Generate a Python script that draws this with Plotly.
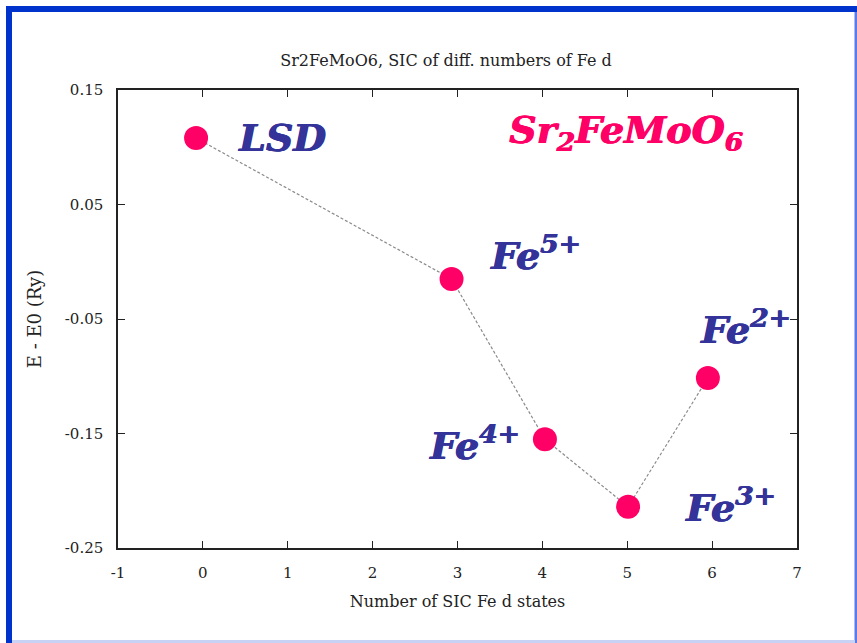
import plotly.graph_objects as go

# data
states = [-0.08, 2.93, 4.03, 5.01, 5.95]
energy = [0.108, -0.015, -0.155, -0.214, -0.1015]
xticks = [-1, 0, 1, 2, 3, 4, 5, 6, 7]
xtick_text = ["-1", "0", "1", "2", "3", "4", "5", "6", "7"]
yticks = [0.15, 0.05, -0.05, -0.15, -0.25]
ytick_text = ["0.15", "0.05", "-0.05", "-0.15", "-0.25"]

W, H = 857, 643
L, R, T, B = 118, 797, 90, 548

fig = go.Figure()
fig.add_trace(go.Scatter(
    x=states, y=energy, mode="lines+markers",
    line=dict(color="#8a8a8a", width=1.2, dash="3px,2px"),
    marker=dict(size=24, color="#ff0066", line=dict(width=0)),
    showlegend=False, hoverinfo="skip"))

def px2data(px, py):
    return (-1 + (px - L) / (R - L) * 8, 0.15 - (py - T) / (B - T) * 0.4)

blue_shadow = "0.7px 0 0 #333399, -0.3px 0 0 #333399"
pink_shadow = "0.7px 0 0 #ff0066, -0.3px 0 0 #ff0066"
lab_font = dict(family="DejaVu Serif", size=38, color="#333399", shadow=blue_shadow)
labels = [
    ("<b><i>LSD</i></b>", 282, 137),
    ("<b><i>Fe<sup>5+</sup></i></b>", 535, 253),
    ("<b><i>Fe<sup>2+</sup></i></b>", 745, 327),
    ("<b><i>Fe<sup>4+</sup></i></b>", 474, 443),
    ("<b><i>Fe<sup>3+</sup></i></b>", 730, 505),
]
for txt, px, py in labels:
    x, y = px2data(px, py)
    fig.add_annotation(x=x, y=y, xref="x", yref="y", text=txt, showarrow=False,
                       font=lab_font, xanchor="center", yanchor="middle")
x, y = px2data(626, 132)
fig.add_annotation(x=x, y=y, xref="x", yref="y",
                   text="<b><i>Sr<sub>2</sub>FeMoO<sub>6</sub></i></b>", showarrow=False,
                   font=dict(family="DejaVu Serif", size=38, color="#ff0066", shadow=pink_shadow),
                   xanchor="center", yanchor="middle")

def pxx(px):
    return (px - L) / (R - L)

def pxy(py):
    return (B - py) / (B - T)

# frame
shapes = [
    dict(type="rect", xref="paper", yref="paper", x0=pxx(6), x1=pxx(12), y0=pxy(643), y1=pxy(6),
         fillcolor="#0033cc", line=dict(width=0), layer="above"),
    dict(type="rect", xref="paper", yref="paper", x0=pxx(6), x1=pxx(857), y0=pxy(12), y1=pxy(6),
         fillcolor="#0033cc", line=dict(width=0), layer="above"),
    dict(type="rect", xref="paper", yref="paper", x0=pxx(854.5), x1=pxx(857), y0=pxy(643), y1=pxy(12),
         fillcolor="#5c7ae8", line=dict(width=0), layer="above"),
    dict(type="rect", xref="paper", yref="paper", x0=pxx(12), x1=pxx(855), y0=pxy(643), y1=pxy(640),
         fillcolor="#c8d2f5", line=dict(width=0), layer="above"),
]

tick_font = dict(family="DejaVu Serif", size=15, color="#222222")
fig.update_layout(
    width=W, height=H,
    margin=dict(l=L, r=W - R, t=T, b=H - B),
    paper_bgcolor="white", plot_bgcolor="white",
    shapes=shapes,
    title=dict(text="Sr2FeMoO6, SIC of diff. numbers of Fe d", x=pxx(446), xref="paper",
               y=1 - 60 / H, yanchor="middle", xanchor="center",
               font=dict(family="DejaVu Serif", size=16, color="#222222")),
    xaxis=dict(range=[-1, 7], tickvals=xticks, ticktext=xtick_text, ticks="inside", ticklen=7,
               tickcolor="#222", ticklabelstandoff=10,
               showline=True, linecolor="#222", linewidth=1.5, mirror="ticks",
               showgrid=False, zeroline=False, tickfont=tick_font,
               title=dict(text="Number of SIC Fe d states", standoff=15,
                          font=dict(family="DejaVu Serif", size=16, color="#222222"))),
    yaxis=dict(range=[-0.25, 0.15], tickvals=yticks, ticktext=ytick_text, ticks="inside",
               ticklen=7, tickcolor="#222", ticklabelstandoff=10,
               showline=True, linecolor="#222", linewidth=1.5, mirror="ticks",
               showgrid=False, zeroline=False, tickfont=tick_font,
               title=dict(text="E - E0 (Ry)", standoff=18,
                          font=dict(family="DejaVu Serif", size=18, color="#222222"))),
)

fig.write_html("out.html")
